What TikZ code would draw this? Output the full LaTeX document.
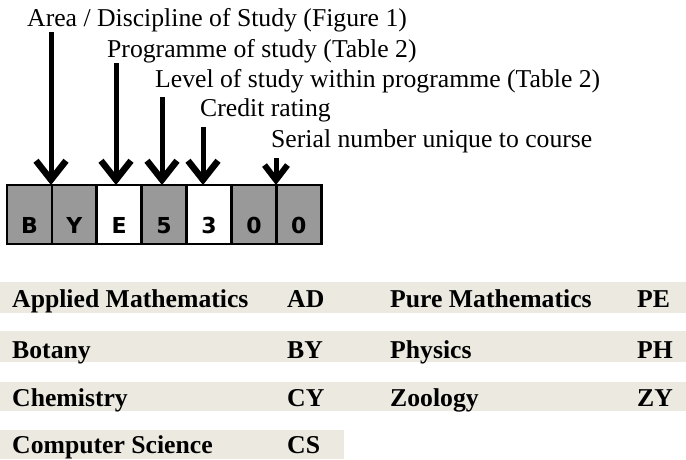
\documentclass[tikz,border=0pt]{standalone}
\usepackage{fontspec}
\setmainfont{Liberation Serif}
\newfontfamily\cellfont{DejaVu Sans}
\usetikzlibrary{%
	arrows.meta,%
	positioning,%
}
\definecolor{cgray}{RGB}{153, 153, 153}
\definecolor{cband}{RGB}{236, 233, 224}
\tikzset{
	pointer/.style={%
			-{Straight Barb[length=19pt,width=30pt,line width=6.5pt]},%
			line width=5pt},%
	smallpointer/.style={%
			-{Straight Barb[length=15pt,width=23pt,line width=6pt]},%
			line width=5pt},%
	lbl/.style={%
			anchor=base west,%
			inner sep=0,%
			font={\fontsize{25.7}{30}\selectfont}},%
	codecell/.style={%
			draw,%
			rectangle,%
			line width=2.8pt,%
			fill=cgray,%
			inner sep=0,%
			outer sep=0,%
			minimum width=44.9pt,%
			text height=48pt,%
			text depth=11pt,%
			font={\cellfont\bfseries\fontsize{22}{22}\selectfont}},%
	band/.style={%
			fill=cband,%
			rectangle,%
			anchor=north west,%
			inner sep=0,%
			minimum width=686pt},%
	subject/.style={%
			anchor=base west,%
			inner sep=0,%
			font={\bfseries\fontsize{25.7}{30}\selectfont}},%
}

\begin{document}
\begin{tikzpicture}[x=1pt, y=-1pt, node distance=0pt]%
	\useasboundingbox (0,0) rectangle (686,459);

	\node[lbl] (area) at (27,26) {Area / Discipline of Study (Figure 1)};
	\node[lbl] (prog) at (107,57) {Programme of study (Table 2)};
	\node[lbl] (level) at (155,87) {Level of study within programme (Table 2)};
	\node[lbl] (credit) at (200,116) {Credit rating};
	\node[lbl] (serial) at (271,147) {Serial number unique to course};

	\node[codecell, anchor=north west] (c1) at (7,185) {B};
	\node[codecell] (c2) [right=of c1] {Y};
	\node[codecell, fill=white] (c3) [right=of c2] {E};
	\node[codecell] (c4) [right=of c3] {5};
	\node[codecell, fill=white] (c5) [right=of c4] {3};
	\node[codecell] (c6) [right=of c5] {0};
	\node[codecell] (c7) [right=of c6] {0};

	\coordinate (areatop) at (51,32);
	\coordinate (progtop) at (116,63);
	\coordinate (leveltop) at (162,97);
	\coordinate (credittop) at (203,127);
	\coordinate (serialtop) at (276,158);

	\draw[pointer] (areatop) -- (areatop |- c1.north);
	\draw[pointer] (progtop) -- (progtop |- c3.north);
	\draw[pointer] (leveltop) -- (leveltop |- c4.north);
	\draw[pointer] (credittop) -- (credittop |- c5.north);
	\draw[smallpointer] (serialtop) -- (serialtop |- c6.north);

	\node[band, minimum height=31pt] (bandA) at (0,282) {};
	\node[band, minimum height=31pt] (bandB) at (0,331) {};
	\node[band, minimum height=29pt] (bandC) at (0,382) {};
	\node[band, minimum height=29pt, minimum width=344pt] (bandD) at (0,430) {};

	\node[subject] (applied) at (12,307) {Applied Mathematics};
	\node[subject] (appliedcode) at (287,307) {AD};
	\node[subject] (pure) at (390,307) {Pure Mathematics};
	\node[subject] (purecode) at (637,307) {PE};
	\node[subject] (botany) at (12,358) {Botany};
	\node[subject] (botanycode) at (287,358) {BY};
	\node[subject] (physics) at (390,358) {Physics};
	\node[subject] (physicscode) at (637,358) {PH};
	\node[subject] (chem) at (12,406) {Chemistry};
	\node[subject] (chemcode) at (287,406) {CY};
	\node[subject] (zoology) at (390,406) {Zoology};
	\node[subject] (zoologycode) at (637,406) {ZY};
	\node[subject] (compsci) at (12,453) {Computer Science};
	\node[subject] (compscicode) at (287,453) {CS};
\end{tikzpicture}
\end{document}
